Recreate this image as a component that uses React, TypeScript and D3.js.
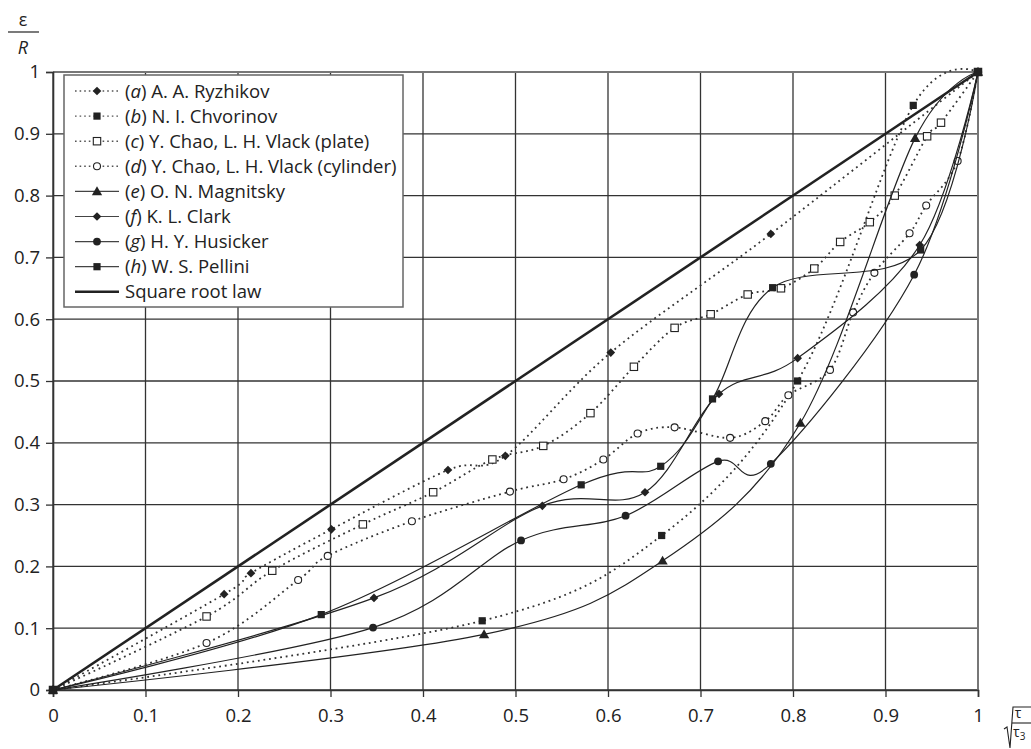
import * as d3 from 'd3';
import React, { useRef, useEffect } from 'react';

// tick values + labels, same on both axes
const ticks = [0, 0.1, 0.2, 0.3, 0.4, 0.5, 0.6, 0.7, 0.8, 0.9, 1];
const tickLabels = ["0", "0.1", "0.2", "0.3", "0.4", "0.5", "0.6", "0.7", "0.8", "0.9", "1"];

// series, [sqrt(tau/tau3), eps/R]
const ryzhikov = [[0, 0], [0.185, 0.155], [0.214, 0.189], [0.301, 0.26], [0.427, 0.356], [0.489, 0.379], [0.603, 0.546], [0.776, 0.738], [1, 1]];
const chvorinov = [[0, 0], [0.464, 0.112], [0.658, 0.25], [0.805, 0.5], [0.93, 0.946], [1, 1]];
const chaoPlate = [[0, 0], [0.166, 0.119], [0.237, 0.193], [0.335, 0.268], [0.411, 0.32], [0.475, 0.373], [0.53, 0.395], [0.581, 0.448], [0.628, 0.523], [0.672, 0.586], [0.711, 0.608], [0.751, 0.64], [0.787, 0.65], [0.823, 0.682], [0.851, 0.725], [0.883, 0.757], [0.91, 0.8], [0.945, 0.896], [0.96, 0.918], [1, 1]];
const chaoCylinder = [[0, 0], [0.166, 0.076], [0.265, 0.178], [0.297, 0.217], [0.388, 0.273], [0.494, 0.321], [0.552, 0.341], [0.595, 0.373], [0.632, 0.415], [0.672, 0.425], [0.732, 0.408], [0.77, 0.435], [0.795, 0.477], [0.84, 0.518], [0.865, 0.611], [0.888, 0.675], [0.926, 0.739], [0.944, 0.784], [0.978, 0.856], [1, 1]];
const magnitsky = [[0, 0], [0.466, 0.09], [0.659, 0.209], [0.808, 0.432], [0.932, 0.893], [1, 1]];
const clark = [[0, 0], [0.347, 0.149], [0.529, 0.298], [0.64, 0.32], [0.72, 0.479], [0.805, 0.537], [0.937, 0.72], [1, 1]];
const husicker = [[0, 0], [0.346, 0.101], [0.506, 0.242], [0.619, 0.282], [0.719, 0.37], [0.776, 0.366], [0.931, 0.672], [1, 1]];
const pellini = [[0, 0], [0.29, 0.122], [0.571, 0.332], [0.657, 0.362], [0.713, 0.471], [0.778, 0.651], [0.938, 0.712], [1, 1]];
const squareRoot = [[0, 0], [1, 1]];

const seriesLetters = ["a", "b", "c", "d", "e", "f", "g", "h"];
const seriesNames = ["A. A. Ryzhikov", "N. I. Chvorinov", "Y. Chao, L. H. Vlack (plate)", "Y. Chao, L. H. Vlack (cylinder)", "O. N.  Magnitsky", "K. L. Clark", "H. Y. Husicker", "W. S. Pellini"];
const seriesData = [ryzhikov, chvorinov, chaoPlate, chaoCylinder, magnitsky, clark, husicker, pellini];
const seriesDotted = [true, true, true, true, false, false, false, false];
const seriesMarker = ["diamond", "square", "openSquare", "openCircle", "triangle", "diamond", "circle", "square"];

const FONT = "'Open Sans', 'Noto Sans', sans-serif";
const FS = "18.5px";

function App() {
    const ref = useRef(null);

    useEffect(() => {
        draw();
    }, []);

    const draw = () => {
        const width = 1031, height = 749;
        const svg = d3.select(ref.current);
        svg.selectAll("*").remove();

        const x = d3.scaleLinear().domain([0, 1]).range([53, 978]);
        const y = d3.scaleLinear().domain([0, 1]).range([690, 72]);
        const ink = "#222";

        svg.append("rect").attr("width", width).attr("height", height).attr("fill", "#fff");

        // grid
        const grid = svg.append("g");
        ticks.forEach(t => {
            grid.append("line")
                .attr("x1", x(t)).attr("x2", x(t)).attr("y1", y(0)).attr("y2", y(1))
                .attr("stroke", t === 1 ? "#777" : "#333").attr("stroke-width", t === 1 ? 2 : 1.3);
            grid.append("line")
                .attr("x1", x(0)).attr("x2", x(1)).attr("y1", y(t)).attr("y2", y(t))
                .attr("stroke", t === 1 ? "#777" : "#333").attr("stroke-width", t === 1 ? 2 : 1.3);
        });

        // axes
        const xAxis = svg.append("g")
            .attr("transform", `translate(0,${y(0)})`)
            .call(d3.axisBottom(x).tickValues(ticks).tickFormat((d, i) => tickLabels[i]).tickSize(7).tickPadding(12));
        const yAxis = svg.append("g")
            .attr("transform", `translate(${x(0)},0)`)
            .call(d3.axisLeft(y).tickValues(ticks).tickFormat((d, i) => tickLabels[i]).tickSize(7).tickPadding(6));
        [xAxis, yAxis].forEach(a => {
            a.select(".domain").attr("stroke", "#333").attr("stroke-width", 1.6);
            a.selectAll(".tick line").attr("stroke", "#333").attr("stroke-width", 1.3);
            a.selectAll("text").attr("fill", ink).style("font-family", FONT).style("font-size", FS);
        });

        const line = d3.line()
            .x(d => x(d[0]))
            .y(d => y(d[1]))
            .curve(d3.curveCardinal.tension(0));

        const drawMarker = (g, kind, cx, cy) => {
            if (kind === "openCircle") {
                g.append("circle").attr("cx", cx).attr("cy", cy).attr("r", 3.5)
                    .attr("fill", "#fff").attr("stroke", ink).attr("stroke-width", 1.1);
            } else if (kind === "circle") {
                g.append("circle").attr("cx", cx).attr("cy", cy).attr("r", 3.9).attr("fill", ink);
            } else if (kind === "openSquare") {
                g.append("rect").attr("x", cx - 3.7).attr("y", cy - 3.7).attr("width", 7.4).attr("height", 7.4)
                    .attr("fill", "#fff").attr("stroke", ink).attr("stroke-width", 1.1);
            } else if (kind === "square") {
                g.append("path").attr("d", d3.symbol(d3.symbolSquare, 52)()).attr("transform", `translate(${cx},${cy})`).attr("fill", ink);
            } else if (kind === "diamond") {
                g.append("path").attr("d", d3.symbol(d3.symbolSquare, 38)()).attr("transform", `translate(${cx},${cy}) rotate(45)`).attr("fill", ink);
            } else if (kind === "triangle") {
                g.append("path").attr("d", d3.symbol(d3.symbolTriangle, 46)()).attr("transform", `translate(${cx},${cy + 0.8})`).attr("fill", ink);
            }
        };

        // series
        seriesData.forEach((data, i) => {
            const g = svg.append("g");
            g.append("path")
                .attr("d", line(data))
                .attr("fill", "none")
                .attr("stroke", seriesDotted[i] ? "#333" : ink)
                .attr("stroke-width", seriesDotted[i] ? 1.8 : 1.2)
                .attr("stroke-dasharray", seriesDotted[i] ? "1.8 3.8" : null);
            data.forEach(d => drawMarker(g, seriesMarker[i], x(d[0]), y(d[1])));
        });

        svg.append("path")
            .attr("d", d3.line().x(d => x(d[0])).y(d => y(d[1]))(squareRoot))
            .attr("fill", "none").attr("stroke", ink).attr("stroke-width", 2.6);
        drawMarker(svg, "square", x(0), y(0));
        drawMarker(svg, "square", x(1), y(1));

        // legend
        const legend = svg.append("g");
        legend.append("rect").attr("x", 64).attr("y", 75).attr("width", 339).attr("height", 232)
            .attr("fill", "#fff").attr("stroke", "#666").attr("stroke-width", 1.5);
        const rowY = i => 91 + i * 25.1;
        seriesNames.forEach((name, i) => {
            const cy = rowY(i);
            legend.append("line").attr("x1", 75).attr("x2", 119).attr("y1", cy).attr("y2", cy)
                .attr("stroke", seriesDotted[i] ? "#555" : "#444").attr("stroke-width", seriesDotted[i] ? 1.4 : 1.2)
                .attr("stroke-dasharray", seriesDotted[i] ? "1.6 3" : null);
            drawMarker(legend, seriesMarker[i], 97, cy);
            const t = legend.append("text").attr("x", 125).attr("y", cy + 6.5)
                .attr("fill", ink).style("font-family", FONT).style("font-size", FS);
            t.append("tspan").text("(");
            t.append("tspan").attr("font-style", "italic").text(seriesLetters[i]);
            t.append("tspan").text(") " + name);
        });
        const sy = rowY(8);
        legend.append("line").attr("x1", 75).attr("x2", 119).attr("y1", sy).attr("y2", sy)
            .attr("stroke", ink).attr("stroke-width", 2.6);
        legend.append("text").attr("x", 125).attr("y", sy + 6.5).attr("fill", ink)
            .style("font-family", FONT).style("font-size", FS).text("Square root law");

        // y label: eps / R
        svg.append("text").attr("x", 23).attr("y", 26).attr("text-anchor", "middle").attr("fill", ink)
            .style("font-family", FONT).style("font-size", "18px").text("ε");
        svg.append("line").attr("x1", 8).attr("x2", 39).attr("y1", 32).attr("y2", 32).attr("stroke", ink).attr("stroke-width", 1.2);
        svg.append("text").attr("x", 23).attr("y", 54).attr("text-anchor", "middle").attr("fill", ink)
            .attr("font-style", "italic").style("font-family", FONT).style("font-size", "18px").text("R");

        // x label: sqrt(tau / tau3)
        svg.append("path").attr("d", "M1004,729 L1007,727 L1010,748 L1013,707 L1031,707")
            .attr("fill", "none").attr("stroke", ink).attr("stroke-width", 1.1);
        svg.append("text").attr("x", 1018).attr("y", 718).attr("text-anchor", "middle").attr("fill", ink)
            .style("font-family", FONT).style("font-size", "14px").text("τ");
        svg.append("line").attr("x1", 1012).attr("x2", 1031).attr("y1", 723).attr("y2", 723).attr("stroke", ink).attr("stroke-width", 1.1);
        const tt = svg.append("text").attr("x", 1013).attr("y", 737).attr("fill", ink)
            .style("font-family", FONT).style("font-size", "14px");
        tt.append("tspan").text("τ");
        tt.append("tspan").attr("dy", 3).style("font-size", "10px").text("3");
    };

    return (
        <div className="chart">
            <svg ref={ref} width={1031} height={749} style={{ position: "absolute", left: 0, top: 0, display: "block" }}>
            </svg>
        </div>
    );
}

export default App;
